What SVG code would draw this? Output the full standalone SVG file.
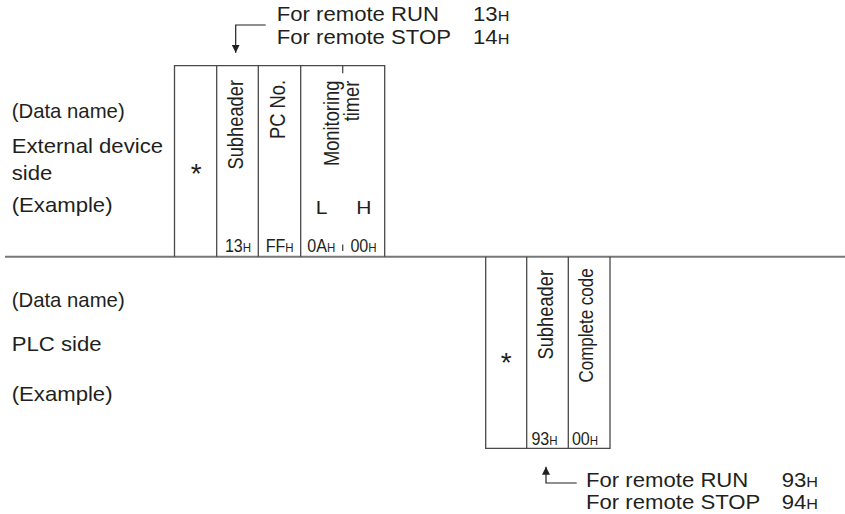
<svg xmlns="http://www.w3.org/2000/svg" width="845" height="514" viewBox="0 0 845 514">
<style>
text{font-family:"Liberation Sans",Arial,sans-serif;fill:#231f20}
.lbl{font-size:20.5px}
.vt{font-size:18.3px}
.val{font-size:17.5px}
.sm{font-size:12.5px}
.smb{font-size:15px}
.star{font-size:28px}
.box{stroke:#4a4a4a;stroke-width:1.3;fill:none}
.sep{stroke:#777;stroke-width:2;fill:none}
.con{stroke:#231f20;stroke-width:1.2;fill:none}
</style>
<defs>
<marker id="ah" viewBox="0 0 10 10" refX="10" refY="5" markerWidth="8" markerHeight="9" markerUnits="userSpaceOnUse" orient="auto">
<path d="M0,0 L10,5 L0,10 z" fill="#231f20"/>
</marker>
</defs>

<g id="separator">
<line class="sep" x1="5" y1="256.7" x2="845" y2="256.7"/>
</g>

<g id="external-labels">
<text class="lbl" textLength="104.6" lengthAdjust="spacingAndGlyphs" transform="translate(11.7,118) scale(1.08,1)">(Data name)</text>
<text class="lbl" transform="translate(11.7,152.7) scale(1.08,1)">External device</text>
<text class="lbl" transform="translate(11.7,180) scale(1.08,1)">side</text>
<text class="lbl" transform="translate(11.7,211.7) scale(1.08,1)">(Example)</text>
</g>

<g id="plc-labels">
<text class="lbl" textLength="104.6" lengthAdjust="spacingAndGlyphs" transform="translate(11.7,306.7) scale(1.08,1)">(Data name)</text>
<text class="lbl" transform="translate(11.7,351) scale(1.08,1)">PLC side</text>
<text class="lbl" transform="translate(11.7,401) scale(1.08,1)">(Example)</text>
</g>

<g id="external-frame">
<path class="box" d="M174.5,256.7 V65.7 H384.7 V256.7 M216.7,65.7 V256.7 M258.3,65.7 V256.7 M300.7,65.7 V256.7 M342.7,65.7 V73.3 M342.7,244.5 V251"/>
<text class="star" x="196.2" y="183.3" text-anchor="middle">*</text>
<text class="vt" text-anchor="end" transform="translate(243.3,80) scale(1.2,1) rotate(-90)">Subheader</text>
<text class="vt" text-anchor="end" transform="translate(285,80) scale(1.2,1) rotate(-90)">PC No.</text>
<text class="vt" text-anchor="end" transform="translate(338.5,80.7) scale(1.2,1) rotate(-90)">Monitoring</text>
<text class="vt" text-anchor="end" transform="translate(359,80.7) scale(1.2,1) rotate(-90)">timer</text>
<text class="lbl" text-anchor="middle" style="font-size:17.5px" transform="translate(321.5,214) scale(1.2,1)">L</text>
<text class="lbl" text-anchor="middle" style="font-size:17.5px" transform="translate(363.8,214) scale(1.2,1)">H</text>
<text class="val" text-anchor="middle" transform="translate(238,252) scale(0.92,1)">13<tspan class="sm">H</tspan></text>
<text class="val" text-anchor="middle" transform="translate(279.7,252) scale(0.92,1)">FF<tspan class="sm">H</tspan></text>
<text class="val" text-anchor="middle" transform="translate(321.3,252) scale(0.92,1)">0A<tspan class="sm">H</tspan></text>
<text class="val" text-anchor="middle" transform="translate(363.5,252) scale(0.92,1)">00<tspan class="sm">H</tspan></text>
</g>

<g id="plc-frame">
<path class="box" d="M485.7,256.7 V448.3 H610 V256.7 M526.7,256.7 V448.3 M568.3,256.7 V448.3"/>
<text class="star" x="506.2" y="372.2" text-anchor="middle">*</text>
<text class="vt" text-anchor="end" transform="translate(553.3,270) scale(1.2,1) rotate(-90)">Subheader</text>
<text class="vt" text-anchor="end" style="font-size:17px" transform="translate(593,268.3) scale(1.2,1) rotate(-90)">Complete code</text>
<text class="val" text-anchor="middle" transform="translate(544.5,445) scale(0.92,1)">93<tspan class="sm">H</tspan></text>
<text class="val" text-anchor="middle" transform="translate(585,445) scale(0.92,1)">00<tspan class="sm">H</tspan></text>
</g>

<g id="request-note">
<text class="lbl" transform="translate(276.7,21) scale(1.08,1)">For remote RUN</text>
<text class="lbl" transform="translate(473,21) scale(1.08,1)">13<tspan class="smb">H</tspan></text>
<text class="lbl" transform="translate(276.7,43.5) scale(1.08,1)">For remote STOP</text>
<text class="lbl" transform="translate(473,43.5) scale(1.08,1)">14<tspan class="smb">H</tspan></text>
</g>

<g id="response-note">
<text class="lbl" transform="translate(586,487) scale(1.08,1)">For remote RUN</text>
<text class="lbl" transform="translate(781.7,487) scale(1.08,1)">93<tspan class="smb">H</tspan></text>
<text class="lbl" transform="translate(586,509) scale(1.08,1)">For remote STOP</text>
<text class="lbl" transform="translate(781.7,509) scale(1.08,1)">94<tspan class="smb">H</tspan></text>
</g>

<g id="connectors">
<path class="con" d="M265.7,25 H235.7 V52.7" marker-end="url(#ah)"/>
<path class="con" d="M576.7,483 H546 V466.7" marker-end="url(#ah)"/>
</g>
</svg>
